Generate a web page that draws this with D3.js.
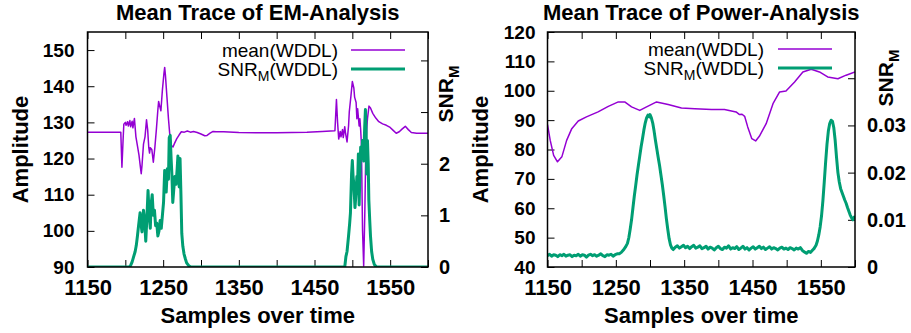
<!DOCTYPE html>
<html>
<head>
<meta charset="utf-8">
<script src="https://cdn.jsdelivr.net/npm/d3@7"></script>
<style>
  body { margin: 0; background: #fff; }
  svg { display: block; font-family: "Liberation Sans", Arial, sans-serif; }
</style>
</head>
<body>
<svg id="chart" width="911" height="333"></svg>
<script>
// ---- data ----
const xTicks = [1150, 1200, 1250, 1300, 1350, 1400, 1450, 1500, 1550, 1600];
const xTickLabels = [1150, 1250, 1350, 1450, 1550];

// EM analysis: mean trace (left axis)
const emMeanX = [1150, 1170, 1194, 1195.5, 1197, 1198, 1200, 1201, 1203, 1204, 1206, 1207, 1209, 1210, 1212,
  1214, 1216, 1218, 1220, 1221, 1222, 1224, 1226, 1228, 1229.5, 1231, 1232, 1233, 1235, 1237, 1239, 1241,
  1243, 1244, 1246, 1247, 1249, 1251, 1252, 1253, 1255, 1257, 1259, 1261, 1263, 1265, 1268, 1271, 1274,
  1278, 1282, 1286, 1290, 1295, 1300, 1305, 1308, 1312, 1316, 1320, 1330, 1350, 1380, 1400, 1420, 1440,
  1460, 1477, 1479, 1480.5, 1482, 1484, 1485, 1487, 1488, 1490, 1491, 1493, 1495, 1496, 1498, 1500, 1502,
  1503, 1505, 1506, 1507, 1509, 1510, 1511, 1512, 1513.5, 1515, 1516.5, 1518, 1520, 1522, 1524, 1527, 1531,
  1535, 1540, 1545, 1550, 1554, 1558, 1562, 1566, 1570, 1574, 1578, 1585, 1600];
const emMean = [127.3, 127.3, 127.3, 117.6, 125, 129.5, 130, 129.2, 130.2, 129, 130.5, 128.8, 130.3, 128.5, 131.1,
  126, 123.5, 121, 117.5, 115.8, 118, 124, 126, 130.7, 128, 123, 121.5, 123, 122.5, 119, 123, 128,
  133.5, 135.8, 134, 133.2, 139, 143.5, 145.2, 143, 137, 131, 126, 123.5, 123.2, 124.2, 125.5, 126.5, 127.4,
  127.3, 127.6, 127.3, 127.5, 127.2, 126.8, 126.3, 126.4, 127.0, 127.5, 127.4, 127.4, 127.2, 127.1, 127.1, 127.2, 127.3,
  127.5, 127.7, 136.3, 130, 125.4, 127.5, 126, 128, 125.8, 128.8, 127, 124.6, 129, 133, 137, 141.3, 139.5,
  137, 135.5, 131, 133.8, 129, 131, 128, 124, 100, 90.3, 105, 125, 131, 134.5, 134, 132.5, 131.2,
  130.2, 129.6, 129.2, 128.6, 127.8, 127.0, 127.4, 128.2, 128.9, 128.0, 127.2, 127.0, 127.0];

// EM analysis: SNR_M (right axis)
const emSnrX = [1150, 1205, 1207, 1209, 1211, 1213, 1214.5, 1216, 1217.5, 1219.5, 1221, 1222, 1224, 1225.5, 1227,
  1228.5, 1230, 1231.5, 1233, 1234, 1235.5, 1237, 1238.5, 1240, 1241.5, 1243, 1244.5, 1246, 1247.5, 1249,
  1250.5, 1252, 1253, 1254, 1255.5, 1257, 1258, 1259.3, 1260.5, 1261.5, 1262.7, 1264, 1265.5, 1267, 1268.5,
  1269.5, 1270.5, 1271.2, 1272.3, 1273.5, 1274.6, 1276, 1277.6, 1279.5, 1281, 1284, 1287,
  1490, 1491.5, 1493, 1495, 1496.5, 1497.5, 1499, 1500, 1501, 1502, 1503.5, 1505, 1506, 1507, 1508, 1509,
  1510, 1511, 1512, 1513.5, 1515, 1516.3, 1517.3, 1518.3, 1519, 1520, 1521, 1521.8, 1523, 1524, 1525.5,
  1527, 1529, 1532, 1600];
const emSnr = [0, 0, 0.03, 0.1, 0.2, 0.3, 0.42, 0.6, 0.8, 1.05, 0.8, 0.68, 1.1, 0.9, 0.5,
  0.95, 1.48, 1.0, 0.75, 1.2, 1.4, 1.0, 1.1, 0.8, 0.85, 0.6, 0.7, 0.9, 0.75, 1.0,
  1.25, 1.87, 1.6, 1.45, 1.9, 1.7, 2.5, 2.55, 2.1, 1.8, 1.25, 1.5, 1.75, 1.6, 1.9,
  2.15, 1.8, 1.55, 2.1, 1.4, 0.65, 0.4, 0.25, 0.15, 0.08, 0.02, 0,
  0, 0.2, 0.3, 0.6, 0.85, 1.05, 1.8, 2.06, 1.75, 1.6, 1.15, 1.45, 1.75, 1.65, 2.19, 1.2,
  1.8, 2.32, 2.1, 2.45, 2.05, 2.7, 3.05, 2.6, 1.8, 2.45, 2.0, 1.3, 0.9, 0.6, 0.3,
  0.15, 0.05, 0, 0];

// Power analysis: mean trace (left axis)
const pwMeanX = [1150, 1154, 1159, 1164.6, 1171, 1178, 1185.5, 1195, 1207, 1224, 1239, 1253.6, 1263, 1273, 1285,
  1295, 1309.6, 1326.6, 1346, 1365.6, 1390, 1409, 1426, 1431, 1434.7, 1438.5, 1443, 1449, 1454.6, 1460,
  1470, 1480, 1489.7, 1499, 1511.6, 1523.7, 1536, 1548, 1560, 1575, 1587, 1600];
const pwMean = [88.5, 83.1, 78, 75.8, 77.5, 83.1, 87.1, 89.7, 91.1, 92.8, 94.7, 96.2, 96.2, 94.5, 93.3,
  94.5, 96.2, 95.3, 94.1, 93.9, 93.6, 93.6, 92.8, 91.9, 92, 91.3, 87.7, 83.7, 82.9, 84.5,
  88.8, 95.6, 99.6, 99.9, 103, 106.4, 107.3, 106.4, 104.7, 104.1, 105.3, 106.4];

// Power analysis: SNR_M (right axis)
const pwSnrX = [1150, 1153, 1156, 1159, 1162, 1165, 1168, 1171, 1174, 1177, 1180, 1183, 1186, 1189, 1192, 1195,
  1198, 1201, 1204, 1207, 1210, 1213, 1216, 1219, 1222, 1225, 1228, 1231, 1234, 1237, 1240, 1243, 1246,
  1249, 1252,
  1255, 1258, 1261, 1264, 1267, 1269, 1271, 1273, 1275, 1277, 1279, 1281, 1283, 1285, 1287, 1289, 1291,
  1293, 1295, 1297, 1299, 1300, 1302, 1304, 1306, 1308, 1310, 1312, 1314, 1316, 1318, 1320, 1322, 1324,
  1326, 1328, 1330, 1332, 1334,
  1337, 1340, 1343, 1346, 1349, 1352, 1355, 1358, 1361, 1364, 1367, 1370, 1373, 1376, 1379, 1382, 1385,
  1388, 1391, 1394, 1397, 1400, 1403, 1406, 1409, 1412, 1415, 1418, 1421, 1424, 1427, 1430, 1433, 1436,
  1439, 1442, 1445, 1448, 1451, 1454, 1457, 1460, 1463, 1466, 1469, 1472, 1475, 1478, 1481, 1484, 1487,
  1490, 1493, 1496, 1499, 1502, 1505, 1508, 1511, 1514, 1517, 1520, 1523, 1526, 1529, 1532, 1535, 1538,
  1540, 1543, 1545, 1547, 1549, 1551, 1553, 1555, 1557, 1559, 1561, 1563, 1565, 1567, 1569, 1571, 1573,
  1575, 1577, 1579, 1581, 1583, 1585, 1587, 1589, 1591, 1593, 1595, 1597, 1599, 1600];
const pwSnr = [0.0024, 0.0027, 0.0023, 0.0026, 0.0025, 0.0022, 0.0026, 0.0024, 0.0027, 0.0023, 0.0025, 0.0026,
  0.0022, 0.0025, 0.0024, 0.0027, 0.0023, 0.0026, 0.0025, 0.0021, 0.0025, 0.0027, 0.0024, 0.0026, 0.0023,
  0.0025, 0.0028, 0.0024, 0.0022, 0.0026, 0.0025, 0.0027, 0.0023, 0.0026, 0.0028,
  0.0028, 0.0031, 0.0036, 0.0042, 0.0050, 0.0062, 0.0080, 0.0100, 0.0125, 0.0150, 0.0172, 0.0195, 0.0215,
  0.0235, 0.0255, 0.0272, 0.0290, 0.0305, 0.0316, 0.0322, 0.0318, 0.0323, 0.0316, 0.0305, 0.0288, 0.0268,
  0.0250, 0.0232, 0.0215, 0.0195, 0.0175, 0.0152, 0.0128, 0.0102, 0.0080, 0.0060, 0.0047, 0.0040, 0.0037,
  0.0042, 0.0045, 0.0040, 0.0043, 0.0046, 0.0041, 0.0044, 0.0039, 0.0043, 0.0046, 0.0040, 0.0042, 0.0045,
  0.0039, 0.0041, 0.0044, 0.0038, 0.0042, 0.0040, 0.0036, 0.0041, 0.0044, 0.0039, 0.0037, 0.0042, 0.0040,
  0.0045, 0.0038, 0.0041, 0.0039, 0.0043, 0.0037, 0.0040, 0.0044, 0.0038, 0.0041, 0.0036, 0.0040, 0.0043,
  0.0038, 0.0041, 0.0044, 0.0039, 0.0042, 0.0037, 0.0040, 0.0043, 0.0038, 0.0041, 0.0039, 0.0036, 0.0040,
  0.0042, 0.0038, 0.0040, 0.0037, 0.0041, 0.0039, 0.0036, 0.0040, 0.0038, 0.0041, 0.0035, 0.0032, 0.0029,
  0.0033, 0.0031, 0.0036,
  0.0039, 0.0046, 0.0055, 0.0068, 0.0085, 0.0108, 0.0140, 0.0180, 0.0222, 0.0260, 0.0288, 0.0304, 0.0311,
  0.0309, 0.0295, 0.0268, 0.0232, 0.0200, 0.0180, 0.0166, 0.0158, 0.0150, 0.0142, 0.0135, 0.0126, 0.0118,
  0.0110, 0.0104, 0.0100, 0.0106, 0.0104];

const emYTicks = [90, 100, 110, 120, 130, 140, 150];
const emY2Ticks = [0, 1, 2, 3, 4];
const emY2Labels = [0, 1, 2];
const pwYTicks = [40, 50, 60, 70, 80, 90, 100, 110, 120];
const pwY2Ticks = [0, 0.01, 0.02, 0.03, 0.04];
const pwY2Labels = [0, 0.01, 0.02, 0.03];

const purple = '#9400d3';
const green = '#009e73';
const font = '"Liberation Sans", Arial, sans-serif';

const svg = d3.select('#chart');

function drawPanel(o) {
  const x = d3.scaleLinear().domain([1150, 1600]).range([o.left, o.right]);
  const y = d3.scaleLinear().domain(o.yDomain).range([o.bottom, o.top]);
  const y2 = d3.scaleLinear().domain(o.y2Domain).range([o.bottom, o.top]);
  const g = svg.append('g');

  g.append('clipPath').attr('id', o.id + '-clip')
    .append('rect')
    .attr('x', o.left).attr('y', o.top)
    .attr('width', o.right - o.left).attr('height', o.bottom - o.top);

  const styleAxis = (sel, size) => {
    sel.select('.domain').remove();
    sel.attr('font-family', font).attr('font-size', size).attr('font-weight', 'bold');
    sel.selectAll('.tick line').attr('stroke', '#000');
    sel.selectAll('.tick text').attr('fill', '#000');
  };

  // x axis, bottom + mirrored top
  g.append('g').attr('transform', `translate(0,${o.bottom})`)
    .call(d3.axisBottom(x).tickValues(xTicks)
      .tickFormat(d => xTickLabels.includes(d) ? d : '')
      .tickSize(-7).tickPadding(12))
    .call(s => styleAxis(s, 22));
  g.append('g').attr('transform', `translate(0,${o.top})`)
    .call(d3.axisTop(x).tickValues(xTicks).tickFormat('').tickSize(-7))
    .call(s => styleAxis(s, 22));

  // left and right y axes
  g.append('g').attr('transform', `translate(${o.left},0)`)
    .call(d3.axisLeft(y).tickValues(o.yTicks).tickSize(-7).tickPadding(o.yPad))
    .call(s => styleAxis(s, 19));
  g.append('g').attr('transform', `translate(${o.right},0)`)
    .call(d3.axisRight(y2).tickValues(o.y2Ticks)
      .tickFormat(d => o.y2Labels.includes(d) ? d3.format('')(d) : '')
      .tickSize(-7).tickPadding(o.y2Pad))
    .call(s => styleAxis(s, 20));

  const plot = g.append('g').attr('clip-path', `url(#${o.id}-clip)`);

  plot.append('path')
    .datum(d3.zip(o.meanX, o.mean))
    .attr('fill', 'none').attr('stroke', purple).attr('stroke-width', 1.5)
    .attr('stroke-linejoin', 'round')
    .attr('d', d3.line().x(d => x(d[0])).y(d => y(d[1])));

  plot.append('path')
    .datum(d3.zip(o.snrX, o.snr))
    .attr('fill', 'none').attr('stroke', green).attr('stroke-width', 3)
    .attr('stroke-linejoin', 'round')
    .attr('d', d3.line().x(d => x(d[0])).y(d => y2(d[1])));

  // frame
  g.append('rect')
    .attr('x', o.left).attr('y', o.top)
    .attr('width', o.right - o.left).attr('height', o.bottom - o.top)
    .attr('fill', 'none').attr('stroke', '#000').attr('stroke-width', 1.5);

  const cx = (o.left + o.right) / 2;

  g.append('text').attr('x', cx).attr('y', 20)
    .attr('text-anchor', 'middle').attr('font-size', 22).attr('font-weight', 'bold')
    .text(o.title);

  g.append('text').attr('x', cx).attr('y', 323)
    .attr('text-anchor', 'middle').attr('font-size', 22).attr('font-weight', 'bold')
    .text('Samples over time');

  g.append('text')
    .attr('transform', `translate(${o.ylabelX},149.5) rotate(-90)`)
    .attr('text-anchor', 'middle').attr('font-size', 22).attr('font-weight', 'bold')
    .text('Amplitude');

  const snrLabel = g.append('text')
    .attr('transform', `translate(${o.y2labelX},${o.y2labelY}) rotate(-90)`)
    .attr('text-anchor', 'middle').attr('font-size', 21).attr('font-weight', 'bold');
  snrLabel.append('tspan').text('SNR');
  snrLabel.append('tspan').attr('font-size', 15).attr('dy', 6).text('M');

  // key
  const key = g.append('g').attr('font-size', 19).attr('text-anchor', 'end');
  key.append('text').attr('x', o.keyText).attr('y', o.keyY[0] + 7).text('mean(WDDL)');
  const k2 = key.append('text').attr('x', o.keyText).attr('y', o.keyY[1] + 7);
  k2.append('tspan').text('SNR');
  k2.append('tspan').attr('font-size', 14).attr('dy', 5).text('M');
  k2.append('tspan').attr('dy', -5).text('(WDDL)');
  key.append('line').attr('x1', o.keyLine[0]).attr('x2', o.keyLine[1])
    .attr('y1', o.keyY[0]).attr('y2', o.keyY[0])
    .attr('stroke', purple).attr('stroke-width', 1.5);
  key.append('line').attr('x1', o.keyLine[0]).attr('x2', o.keyLine[1])
    .attr('y1', o.keyY[1]).attr('y2', o.keyY[1])
    .attr('stroke', green).attr('stroke-width', 3);
}

drawPanel({
  id: 'em', title: 'Mean Trace of EM-Analysis',
  left: 87.5, right: 428, top: 32, bottom: 267,
  yDomain: [90, 155], y2Domain: [0, 4.55],
  yTicks: emYTicks, y2Ticks: emY2Ticks, y2Labels: emY2Labels,
  yPad: 13, y2Pad: 11,
  meanX: emMeanX, mean: emMean, snrX: emSnrX, snr: emSnr,
  ylabelX: 28, y2labelX: 453, y2labelY: 94,
  keyText: 338, keyLine: [351, 405], keyY: [50, 69]
});

drawPanel({
  id: 'pw', title: 'Mean Trace of Power-Analysis',
  left: 547.5, right: 855, top: 32, bottom: 267,
  yDomain: [40, 120], y2Domain: [0, 0.0498],
  yTicks: pwYTicks, y2Ticks: pwY2Ticks, y2Labels: pwY2Labels,
  yPad: 12, y2Pad: 12,
  meanX: pwMeanX, mean: pwMean, snrX: pwSnrX, snr: pwSnr,
  ylabelX: 488, y2labelX: 893, y2labelY: 78,
  keyText: 764, keyLine: [778, 832], keyY: [49, 68]
});
</script>
</body>
</html>
